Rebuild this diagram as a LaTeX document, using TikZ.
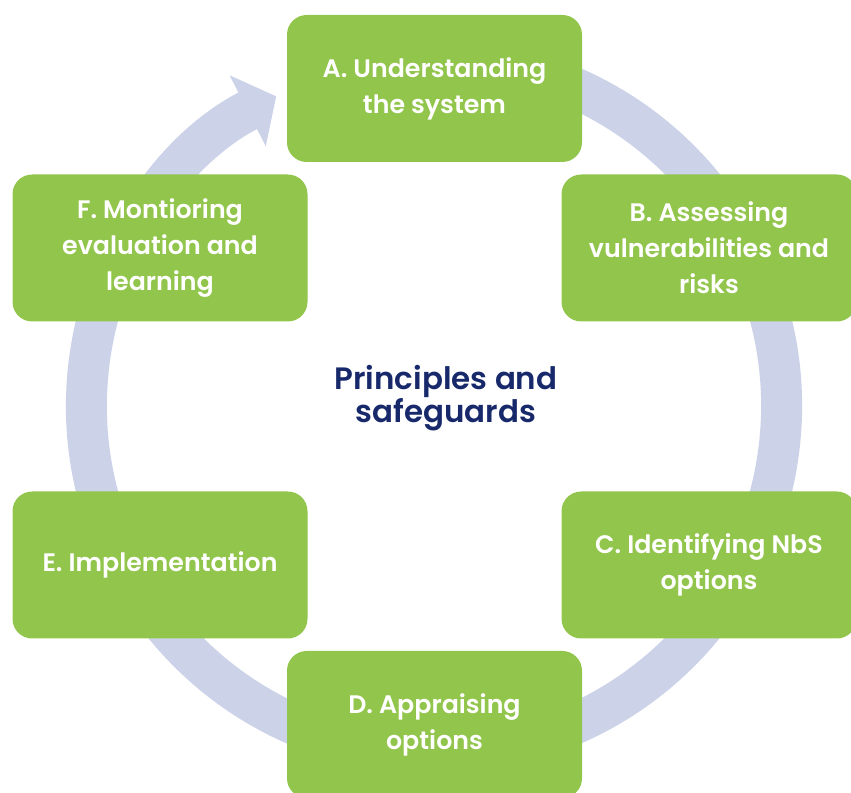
\documentclass[tikz,border=0pt]{standalone}
\usepackage{fontspec}
\setsansfont{Poppins}[BoldFont={Poppins SemiBold}]
\usetikzlibrary{arrows.meta}
\definecolor{leafstep}{HTML}{92C54B}
\definecolor{cycleband}{HTML}{CCD3E9}
\definecolor{navyink}{HTML}{17296B}

\begin{document}
\begin{tikzpicture}[
  font=\sffamily\bfseries,
  stage/.style={fill=leafstep, rounded corners=14pt, text=white, align=center,
    minimum width=7.375cm, minimum height=3.675cm, inner sep=0pt,
    font=\sffamily\bfseries\fontsize{18}{25.5}\selectfont},
  core/.style={text=navyink, align=center,
    font=\sffamily\bfseries\fontsize{22}{24}\selectfont},
  cycle/.style={draw=cycleband, line width=1.025cm,
    -{Triangle[length=0.8cm, width=1.95cm]}}
]
\clip (0,0) rectangle (21.275,19.8);
% band running behind the six stages
\draw[cycle] (10.85,9.65) ++(85:8.69) arc[start angle=85, end angle=-243, radius=8.69];

\node[stage] (understand) at (10.8625,17.5875) {A. Understanding\\the system};
\node[stage] (assess) at (17.725,13.6) {B. Assessing\\vulnerabilities and\\risks};
\node[stage] (identify) at (17.725,5.675) {C. Identifying NbS\\options};
\node[stage] (appraise) at (10.8625,1.6875) {D. Appraising\\options};
\node[stage] (implement) at (4.0,5.675) {E. Implementation};
\node[stage] (monitor) at (4.0,13.6) {F. Montioring\\evaluation and\\learning};

\node[core] (principles) at (11.15,9.85) {Principles and\\safeguards};
\end{tikzpicture}
\end{document}
